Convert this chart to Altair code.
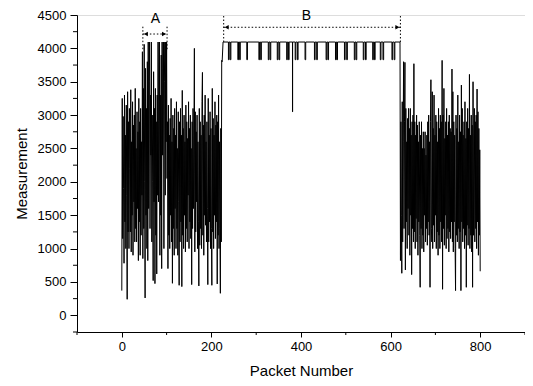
import altair as alt
import pandas as pd

# ---------------- data ----------------
seg1_y = [370, 3250, 1150, 2980, 1900, 780, 3300, 1400, 2700, 1000,
          3150, 1800, 240, 3350, 1250, 2900, 1000, 3100, 2200, 1250,
          3380, 950, 2600, 1500, 3200, 900, 2850, 1700, 3000, 1100,
          3400, 1300, 2500, 1100, 3050, 1600, 2750, 820, 3250, 1400,
          2900, 900, 3100, 1200, 2600, 1800, 3950, 850, 3400, 1300,
          4060, 2000, 260, 3700, 1500, 3100, 1000, 3800, 820, 4095,
          1600, 3500, 4095, 1300, 3300, 2400, 4095, 1100, 3000, 2000,
          520, 3650, 1700, 3100, 475, 3400, 1200, 2900, 620, 3300,
          1800, 4095, 1700, 3600, 4095, 900, 3300, 1500, 3900, 700,
          4095, 2400, 3700, 4095, 1000, 3500, 4095, 1800, 4095, 2600,
          4095, 2050, 2900, 700, 3150, 1200, 2700, 1000, 2950, 1500,
          3250, 1100, 2600, 480, 3000, 1300, 2800, 900, 3100, 1600,
          2700, 1000, 3200, 1300, 2500, 900, 3050, 1700, 450, 2900,
          1100, 3100, 1400, 2700, 430, 3370, 1200, 2800, 1000, 3000,
          1500, 2600, 950, 3150, 1300, 2900, 1100, 2650, 1800, 3200,
          1000, 2800, 1400, 3000, 1150, 2500, 460, 2900, 1300, 3100,
          1600, 2700, 4000, 950, 3050, 1250, 2750, 1700, 3000, 1000,
          2600, 1400, 440, 3100, 1050, 2900, 1300, 2700, 1000, 3200,
          3640, 1200, 2850, 900, 3000, 1500, 3300, 1350, 2600, 1100,
          2900, 1600, 460, 3250, 1100, 2700, 1400, 3050, 1000, 2800,
          1300, 450, 3400, 1250, 2950, 1000, 2700, 1500, 3200, 1150,
          2850, 1400, 3000, 470, 2900, 1200, 3300, 1000, 2600, 1300,
          330, 2800, 1100, 3820, 3800]
seg1_x = list(range(0, len(seg1_y)))

b_start = 226
b_end = 621
b_level = 4095
b_dip_x = [238, 242, 259, 263, 279, 306, 310, 327, 331, 347, 351, 368,
           372, 381, 387, 392, 409, 430, 435, 456, 460, 477, 480, 497,
           502, 519, 523, 539, 544, 560, 564, 577, 583, 603, 608]
b_dip_y = [3830, 3830, 3830, 3830, 3830, 3830, 3830, 3830, 3830, 3830,
           3830, 3830, 3830, 3050, 3830, 3830, 3830, 3830, 3830, 3830,
           3830, 3830, 3830, 3830, 3830, 3830, 3830, 3830, 3830, 3830,
           3830, 3830, 3830, 3830, 3830]
b_dip_w = [1.5] * 13 + [0.3] + [1.5] * 21

seg3_y = [820, 2900, 1500, 630, 3200, 1100, 2600, 3800, 1300, 2900,
          3790, 680, 3100, 1400, 2600, 1000, 2950, 1600, 3100, 1200,
          2800, 900, 3100, 1500, 2700, 610, 2900, 1300, 3000, 1100,
          3770, 1250, 2900, 1000, 2700, 1450, 3000, 1100, 2850, 900,
          2600, 1400, 2900, 1200, 420, 2700, 1300, 2900, 1000, 2500,
          1200, 2750, 950, 2500, 1500, 2750, 1100, 2400, 1300, 2700,
          1050, 2900, 1400, 3000, 1200, 2600, 420, 2900, 3530, 1300,
          1100, 3350, 1000, 2800, 1350, 3300, 1100, 2700, 1500, 3000,
          1000, 2900, 1250, 2600, 900, 3100, 1200, 2800, 1000, 3000,
          1400, 2900, 1100, 3820, 390, 3000, 1300, 3400, 1050, 2650,
          1500, 2900, 1000, 3100, 1150, 2700, 1300, 2900, 950, 3000,
          1250, 2800, 1150, 2750, 1400, 3690, 1100, 3350, 950, 2900,
          1400, 2700, 1000, 370, 3000, 1200, 2800, 1100, 3300, 1300,
          2600, 1000, 3000, 1250, 2750, 370, 3450, 1400, 3100, 1100,
          2700, 1300, 2900, 1000, 3200, 1200, 2650, 420, 2900, 1350,
          3100, 1050, 2800, 1300, 3610, 1000, 2700, 1200, 3000, 950,
          2850, 420, 3500, 1200, 2700, 3100, 1100, 2900, 1300, 3000,
          1000, 3390, 1400, 3050, 900, 2800, 1200, 2480, 660]
seg3_x = list(range(622, 622 + len(seg3_y)))

x_major = [0, 200, 400, 600, 800]
x_minor = [-100, 100, 300, 500, 700, 900]
y_major = [0, 500, 1000, 1500, 2000, 2500, 3000, 3500, 4000, 4500]
y_minor = [-250, 250, 750, 1250, 1750, 2250, 2750, 3250, 3750, 4250]

labels = ["A", "B"]
label_x = [75, 412]
label_y = [4440, 4485]

span_x1 = [47, 227.4]
span_x2 = [101, 621.9]
span_top = [4325, 4485]
span_bottom = [3976, 4095]
span_arrow_y = [4215, 4316]

# ---------------- build tables ----------------
rows = list(zip(seg1_x, seg1_y))
rows.append((b_start, b_level))
for d, v, w in zip(b_dip_x, b_dip_y, b_dip_w):
    rows += [(d, b_level), (d, v), (d + w, v), (d + w, b_level)]
rows.append((b_end, b_level))
rows += list(zip(seg3_x, seg3_y))
line_df = pd.DataFrame(rows, columns=["x", "y"])
line_df["i"] = range(len(line_df))

FONT = "Liberation Sans"
xscale = alt.Scale(domain=[-100, 900], nice=False, zero=False)
yscale = alt.Scale(domain=[-250, 4500], nice=False, zero=False)
common = dict(grid=False, labelFontSize=13, titleFontSize=15,
              titleFontWeight="normal", labelFont=FONT, titleFont=FONT,
              domainColor="black", tickColor="black", labelColor="black",
              titleColor="black", format="d")
xaxis = alt.Axis(values=x_major, title="Packet Number", tickSize=5,
                 labelPadding=3, titlePadding=10, **common)
yaxis = alt.Axis(values=y_major, title="Measurement", tickSize=7,
                 labelPadding=4, titlePadding=8, **common)

X = alt.X("x:Q", scale=xscale, axis=xaxis)
Y = alt.Y("y:Q", scale=yscale, axis=yaxis)

line = alt.Chart(line_df).mark_line(color="black", strokeWidth=1).encode(
    x=X, y=Y, order=alt.Order("i:Q"))

xminor = alt.Chart(pd.DataFrame({"x": x_minor})).mark_rule(
    color="black", strokeWidth=1).encode(
    x=X, y=alt.value(317), y2=alt.value(320))
yminor = alt.Chart(pd.DataFrame({"y": y_minor})).mark_rule(
    color="black", strokeWidth=1).encode(
    y=Y, x=alt.value(0), x2=alt.value(-4))

span_df = pd.DataFrame({"x": span_x1, "x2": span_x2, "top": span_top,
                        "bottom": span_bottom, "y": span_arrow_y})
dash = [1.5, 2]
vl1 = alt.Chart(span_df).mark_rule(color="black", strokeDash=dash).encode(
    x=X, y=alt.Y("top:Q", scale=yscale, axis=yaxis), y2="bottom:Q")
vl2 = alt.Chart(span_df).mark_rule(color="black", strokeDash=dash).encode(
    x=alt.X("x2:Q", scale=xscale, axis=xaxis),
    y=alt.Y("top:Q", scale=yscale, axis=yaxis), y2="bottom:Q")
hl = alt.Chart(span_df).mark_rule(color="black", strokeDash=dash).encode(
    x=X, x2="x2:Q", y=Y)
al = alt.Chart(span_df).mark_point(shape="triangle-left", filled=True,
                                   color="black", size=22, opacity=1,
                                   xOffset=3).encode(x=X, y=Y)
ar = alt.Chart(span_df).mark_point(shape="triangle-right", filled=True,
                                   color="black", size=22, opacity=1,
                                   xOffset=-3).encode(
    x=alt.X("x2:Q", scale=xscale, axis=xaxis), y=Y)

text = alt.Chart(pd.DataFrame({"x": label_x, "y": label_y, "t": labels})).mark_text(
    font=FONT, fontSize=14, color="black", baseline="middle", align="center").encode(
    x=X, y=Y, text="t:N")

chart = alt.layer(line, xminor, yminor, vl1, vl2, hl, al, ar, text).properties(
    width=448, height=317, autosize="none",
    padding={"left": 69, "top": 7, "right": 0, "bottom": 46},
).configure_view(stroke=None).configure(background="white")

chart.save("out.html", embed_options={"renderer": "svg", "actions": False})
